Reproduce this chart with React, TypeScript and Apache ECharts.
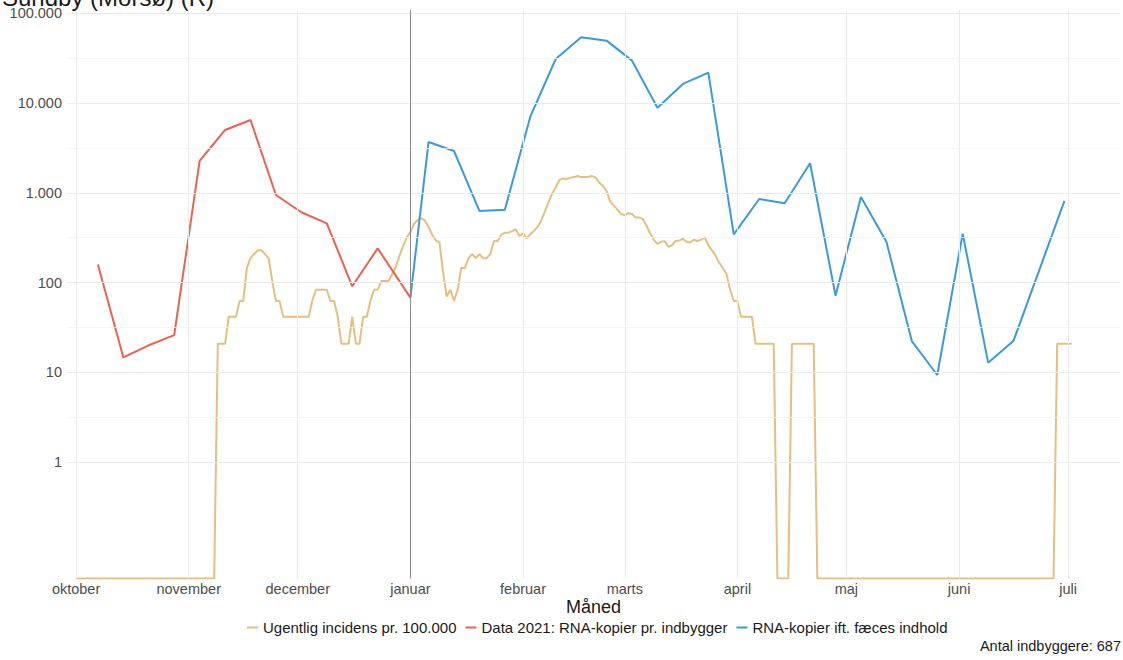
import React, { useEffect, useRef } from 'react';
import * as echarts from 'echarts';

// ---------- texts ----------
const TITLE = 'Sundby (Morsø) (R)';
const X_TITLE = 'Måned';
const CAPTION = 'Antal indbyggere: 687';
const SERIES_NAMES = [
  'Ugentlig incidens pr. 100.000',
  'Data 2021: RNA-kopier pr. indbygger',
  'RNA-kopier ift. fæces indhold',
];
const MONTH_NAMES = ['januar', 'februar', 'marts', 'april', 'maj', 'juni', 'juli', 'august', 'september', 'oktober', 'november', 'december'];
const MONTH_TICKS = ['2021-10-01', '2021-11-01', '2021-12-01', '2022-01-01', '2022-02-01', '2022-03-01', '2022-04-01', '2022-05-01', '2022-06-01', '2022-07-01'];
const Y_BREAKS = [1, 10, 100, 1000, 10000, 100000];
const VLINE_DATE = '2022-01-01';

// ---------- data ----------
// Weekly incidence per 100.000 (daily values); day = days since INCIDENCE_START
const INCIDENCE_START = '2021-10-01';
const INCIDENCE_DAY = [
  0, 38, 39, 41, 42, 44, 45, 46, 47, 48, 49, 50, 51, 52, 53, 54, 55, 56, 57, 64,
  65, 66, 69, 70, 71, 72, 73, 75, 76, 77, 78, 79, 80, 81, 82, 83, 84, 86, 87, 88,
  89, 90, 91, 92, 93, 94, 95, 96, 97, 98, 99, 100, 101, 102, 103, 104, 105, 106, 107, 108,
  109, 110, 111, 112, 113, 114, 115, 116, 117, 118, 119, 120, 121, 122, 123, 124, 125, 126, 127, 128,
  129, 130, 131, 132, 133, 134, 135, 136, 137, 138, 139, 140, 141, 142, 143, 144, 145, 146, 147, 148,
  149, 150, 151, 152, 153, 154, 155, 156, 157, 158, 159, 160, 161, 162, 163, 164, 165, 166, 167, 168,
  169, 170, 171, 172, 173, 174, 175, 176, 177, 178, 179, 180, 181, 182, 183, 186, 187, 192, 193, 196,
  197, 203, 204, 269, 270, 274,
];
const INCIDENCE_VALUE = [
  0, 0, 20.8, 20.8, 41.6, 41.6, 62.4, 62.4, 145.6, 187.2, 208, 228.8, 228.8, 208, 187.2, 104, 62.4, 62.4, 41.6, 41.6,
  62.4, 83.2, 83.2, 62.4, 62.4, 41.6, 20.8, 20.8, 41.6, 20.8, 20.8, 41.6, 41.6, 62.4, 83.2, 83.2, 104, 104, 124.8, 150,
  200, 255, 320, 365, 450, 500, 521, 490, 420, 340, 295, 280, 130, 70, 83.2, 62.4, 83.2, 145.6, 145.6, 187.2,
  208, 187.2, 208, 187.2, 187.2, 208, 291, 291, 340, 360, 360, 375, 393, 331, 355, 312, 345, 377, 418, 490,
  620, 790, 980, 1150, 1390, 1450, 1430, 1470, 1500, 1540, 1500, 1500, 1510, 1540, 1480, 1300, 1200, 1050, 800, 720,
  650, 580, 567, 593, 582, 530, 530, 510, 430, 350, 300, 270, 285, 290, 251, 260, 291, 295, 307, 285,
  280, 300, 291, 300, 320, 260, 229, 200, 166, 145.6, 124.8, 83.2, 62.4, 62.4, 41.6, 41.6, 20.8, 20.8, 0, 0,
  20.8, 20.8, 0, 0, 20.8, 20.8,
];

const RNA_2021_DATES = [
  '2021-10-07', '2021-10-14', '2021-10-21', '2021-10-28', '2021-11-04', '2021-11-11', '2021-11-18',
  '2021-11-25', '2021-12-02', '2021-12-09', '2021-12-16', '2021-12-23', '2022-01-01',
];
const RNA_2021_VALUES = [159, 14.7, 20, 26, 2270, 5030, 6500, 948, 608, 458, 91, 241, 68];

const RNA_FAECES_DATES = [
  '2022-01-01', '2022-01-06', '2022-01-13', '2022-01-20', '2022-01-27', '2022-02-03', '2022-02-10',
  '2022-02-17', '2022-02-24', '2022-03-03', '2022-03-10', '2022-03-17', '2022-03-24', '2022-03-31',
  '2022-04-07', '2022-04-14', '2022-04-21', '2022-04-28', '2022-05-05', '2022-05-12', '2022-05-19',
  '2022-05-26', '2022-06-02', '2022-06-09', '2022-06-16', '2022-06-30',
];
const RNA_FAECES_VALUES = [
  68, 3690, 2930, 629, 650, 7080, 31100, 54300, 49800, 29800, 8910, 16400, 21900, 345,
  855, 766, 2140, 71.5, 900, 286, 22.3, 9.33, 351, 12.8, 22.5, 813,
];

// ---------- styles ----------
const COLORS = ['#E6BF80', '#E9634F', '#3A9BDC'];
const FONT = "'Liberation Sans', Arial, Helvetica, sans-serif";
const AXIS_TEXT = '#4D4D4D';
const GRID_MAJOR = '#EBEBEB';
const GRID_MINOR = '#F4F4F4';

function ts(s: string): number {
  const [y, m, d] = s.split('-').map(Number);
  return new Date(y, m - 1, d).getTime();
}
function dayTs(start: string, day: number): number {
  const [y, m, d] = start.split('-').map(Number);
  return new Date(y, m - 1, d + day).getTime();
}
function fmtThousands(v: number): string {
  return String(Math.round(v)).replace(/\B(?=(\d{3})+(?!\d))/g, '.');
}

const X_MIN = new Date(2021, 8, 28, 12).getTime();
const X_MAX = new Date(2022, 6, 15, 7).getTime();
const Y_MIN = Math.pow(10, -1.3);
const Y_MAX = Math.pow(10, 5.04);

export default function App() {
  const ref = useRef<HTMLDivElement>(null);

  useEffect(() => {
    if (!ref.current) return;
    const chart = echarts.init(ref.current, undefined, { renderer: 'svg' });

    const monthTs = MONTH_TICKS.map(ts);
    const minorBreaks: number[] = [];
    for (let i = 0; i < Y_BREAKS.length - 1; i++) minorBreaks.push(Math.sqrt(Y_BREAKS[i] * Y_BREAKS[i + 1]));

    const gridLines: any[] = [];
    monthTs.forEach((t) => gridLines.push({ xAxis: t, lineStyle: { color: GRID_MAJOR, width: 1, type: 'solid' } }));
    minorBreaks.forEach((v) => gridLines.push({ yAxis: v, lineStyle: { color: GRID_MINOR, width: 0.8, type: 'solid' } }));
    Y_BREAKS.forEach((v) => gridLines.push({ yAxis: v, lineStyle: { color: GRID_MAJOR, width: 1, type: 'solid' } }));
    gridLines.push({ xAxis: ts(VLINE_DATE), lineStyle: { color: '#8C8C8C', width: 1.1, type: 'solid' } });

    const incidence = INCIDENCE_DAY.map((d, i) => [dayTs(INCIDENCE_START, d), Math.max(INCIDENCE_VALUE[i], Y_MIN)]);
    const rna2021 = RNA_2021_DATES.map((d, i) => [ts(d), RNA_2021_VALUES[i]]);
    const rnaFaeces = RNA_FAECES_DATES.map((d, i) => [ts(d), RNA_FAECES_VALUES[i]]);

    const lineSeries = (name: string, data: any[], color: string, z: number) => ({
      name,
      type: 'line',
      data,
      showSymbol: false,
      symbol: 'none',
      z,
      lineStyle: { color, width: 2 },
      itemStyle: { color },
      emphasis: { disabled: true },
      silent: true,
    });

    const option: any = {
      animation: false,
      backgroundColor: '#FFFFFF',
      textStyle: { fontFamily: FONT },
      grid: { left: 67, right: 3, top: 9.9, bottom: 81.4, containLabel: false },
      tooltip: { show: false },
      xAxis: {
        type: 'time',
        min: X_MIN,
        max: X_MAX,
        splitNumber: 10,
        axisLine: { show: false },
        axisTick: { show: false },
        splitLine: { show: false },
        axisLabel: {
          showMinLabel: false,
          showMaxLabel: false,
          hideOverlap: false,
          color: AXIS_TEXT,
          fontSize: 14.5,
          fontFamily: FONT,
          margin: 3,
          formatter: (v: number) => {
            const d = new Date(v);
            if (d.getDate() === 1 && d.getHours() === 0) return MONTH_NAMES[d.getMonth()];
            return '';
          },
        },
        name: X_TITLE,
        nameLocation: 'middle',
        nameGap: 19,
        nameMoveOverlap: false,
        nameTextStyle: { fontSize: 18, color: '#1A1A1A', fontFamily: FONT, verticalAlign: 'top' },
      },
      yAxis: {
        type: 'log',
        logBase: 10,
        min: Y_MIN,
        max: Y_MAX,
        axisLine: { show: false },
        axisTick: { show: false },
        splitLine: { show: false },
        minorSplitLine: { show: false },
        axisLabel: {
          color: AXIS_TEXT,
          fontSize: 14.5,
          fontFamily: FONT,
          margin: 5,
          formatter: (v: number) => {
            const hit = Y_BREAKS.find((b) => Math.abs(v - b) / b < 1e-6);
            return hit === undefined ? '' : fmtThousands(hit);
          },
        },
      },
      legend: {
        data: SERIES_NAMES,
        left: 242,
        top: 615,
        orient: 'horizontal',
        icon: 'rect',
        itemWidth: 11,
        itemHeight: 2,
        itemGap: 9,
        selectedMode: false,
        textStyle: { fontSize: 15, color: '#1A1A1A', fontFamily: FONT },
      },
      graphic: [
        {
          type: 'text',
          x: 2,
          y: 9,
          style: { text: TITLE, fontSize: 24, fontFamily: FONT, fill: '#1A1A1A', align: 'left', verticalAlign: 'bottom' },
        },
        {
          type: 'text',
          x: 1121,
          y: 646,
          style: { text: CAPTION, fontSize: 14.5, fontFamily: FONT, fill: '#1A1A1A', align: 'right', verticalAlign: 'middle' },
        },
      ],
      series: [
        {
          name: '__grid',
          type: 'line',
          data: [],
          z: 0,
          silent: true,
          markLine: {
            silent: true,
            symbol: ['none', 'none'],
            label: { show: false },
            emphasis: { disabled: true },
            animation: false,
            data: gridLines,
          },
        },
        lineSeries(SERIES_NAMES[0], incidence, COLORS[0], 2),
        lineSeries(SERIES_NAMES[1], rna2021, COLORS[1], 3),
        lineSeries(SERIES_NAMES[2], rnaFaeces, COLORS[2], 4),
      ],
    };

    chart.setOption(option);
    return () => chart.dispose();
  }, []);

  return (
    <div
      ref={ref}
      style={{ position: 'absolute', left: 0, top: 0, width: 1123, height: 660, background: '#FFFFFF' }}
    />
  );
}
